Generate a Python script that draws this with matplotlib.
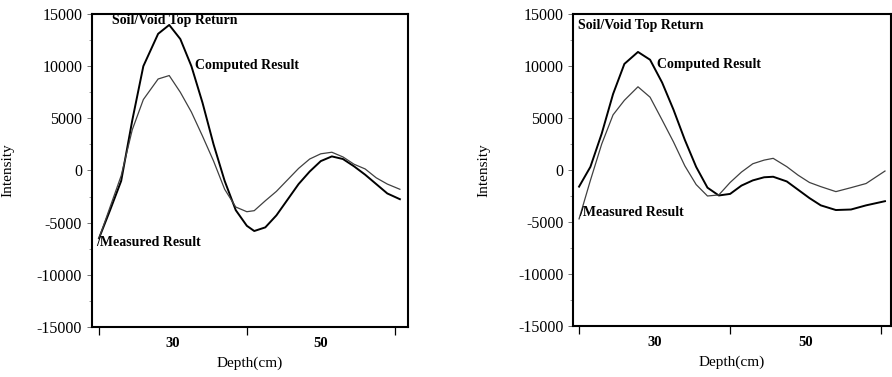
import matplotlib
matplotlib.use("Agg")
import matplotlib.pyplot as plt
from matplotlib.ticker import MultipleLocator

plt.rcParams['font.family'] = ['Liberation Serif', 'DejaVu Serif']
plt.rcParams['axes.unicode_minus'] = False

# left panel
depth_a = [20, 21.5, 23, 24.5, 26, 28, 29.5, 31, 32.5, 34, 35.5, 37, 38.5, 40, 41,
           42.5, 44, 45.5, 47, 48.5, 50, 51.5, 53, 54.5, 56, 57.5, 59, 60.7]
computed_a = [-6500, -3800, -1000, 4800, 10000, 13100, 13950, 12600, 10000, 6500,
              2500, -1000, -3800, -5300, -5800, -5450, -4300, -2800, -1300, -100,
              900, 1350, 1100, 400, -400, -1300, -2200, -2750]
measured_a = [-6500, -3500, -500, 3900, 6800, 8770, 9100, 7500, 5600, 3300, 900,
              -1800, -3500, -3950, -3850, -2900, -2000, -900, 200, 1100, 1600, 1750,
              1300, 600, 150, -700, -1300, -1800]

# right panel
depth_b = [20, 21.5, 23, 24.5, 26, 27.8, 29.4, 31, 32.5, 34, 35.5, 37, 38.5, 40,
           41.5, 43, 44.5, 45.7, 47.5, 49, 50.5, 52, 54, 56, 58, 60.5]
computed_b = [-1600, 300, 3500, 7300, 10200, 11350, 10600, 8400, 5800, 2900, 300,
              -1700, -2450, -2300, -1500, -1000, -700, -650, -1100, -1900, -2700,
              -3400, -3850, -3800, -3400, -3000]
measured_b = [-4700, -1000, 2500, 5300, 6700, 8000, 7000, 4800, 2700, 400, -1400,
              -2500, -2400, -1200, -200, 600, 950, 1120, 320, -500, -1200, -1600,
              -2080, -1700, -1300, -100]

x_major = [20, 40, 60]
x_labeled = [30, 50]
x_labels = ['30', '50']

fig = plt.figure(figsize=(8.92, 3.77), dpi=100)
ax1 = fig.add_axes([0.1031, 0.1326, 0.3543, 0.8303])
ax2 = fig.add_axes([0.6424, 0.1353, 0.3565, 0.8276])


def style_axes(ax, xlim, ylab_x):
    ax.set_xlim(*xlim)
    ax.set_ylim(-15000, 15000)
    for sp in ax.spines.values():
        sp.set_linewidth(1.5)
    ax.set_xticks(x_major)
    ax.set_xticklabels(['', '', ''])
    ax.set_xticks(x_labeled, minor=True)
    ax.set_xticklabels(x_labels, minor=True, fontweight='bold', fontsize=10.5)
    ax.tick_params(axis='x', which='major', direction='out', length=6, width=0.9)
    ax.tick_params(axis='x', which='minor', length=0, pad=7)
    ax.yaxis.set_major_locator(MultipleLocator(5000))
    ax.yaxis.set_minor_locator(MultipleLocator(2500))
    ax.tick_params(axis='y', which='major', direction='out', length=3.5, width=0.7,
                   color='0.45', pad=3.5, labelsize=11.5)
    ax.tick_params(axis='y', which='minor', direction='out', length=2, width=0.6,
                   color='0.55')
    ax.set_xlabel('Depth(cm)', fontsize=11)
    ax.xaxis.set_label_coords(0.5, -0.095)
    ax.set_ylabel('Intensity', fontsize=11)
    ax.yaxis.set_label_coords(ylab_x, 0.5)


ax1.plot(depth_a, computed_a, color='black', lw=1.4)
ax1.plot(depth_a, measured_a, color='0.25', lw=0.9)
style_axes(ax1, (19.05, 61.8), -0.245)
ax1.text(30.3, 14330, 'Soil/Void Top Return', ha='center', va='center',
         fontsize=10, fontweight='bold')
ax1.text(33.0, 10110, 'Computed Result', ha='left', va='center',
         fontsize=10, fontweight='bold')
ax1.text(19.6, -6860, '/Measured Result', ha='left', va='center',
         fontsize=10, fontweight='bold')

ax2.plot(depth_b, computed_b, color='black', lw=1.4)
ax2.plot(depth_b, measured_b, color='0.25', lw=0.9)
style_axes(ax2, (19.2, 61.3), -0.26)
ax2.text(19.9, 13940, 'Soil/Void Top Return', ha='left', va='center',
         fontsize=10, fontweight='bold')
ax2.text(30.3, 10100, 'Computed Result', ha='left', va='center',
         fontsize=10, fontweight='bold')
ax2.text(20.0, -4070, '/Measured Result', ha='left', va='center',
         fontsize=10, fontweight='bold')

fig.savefig('out.png', dpi=100)
